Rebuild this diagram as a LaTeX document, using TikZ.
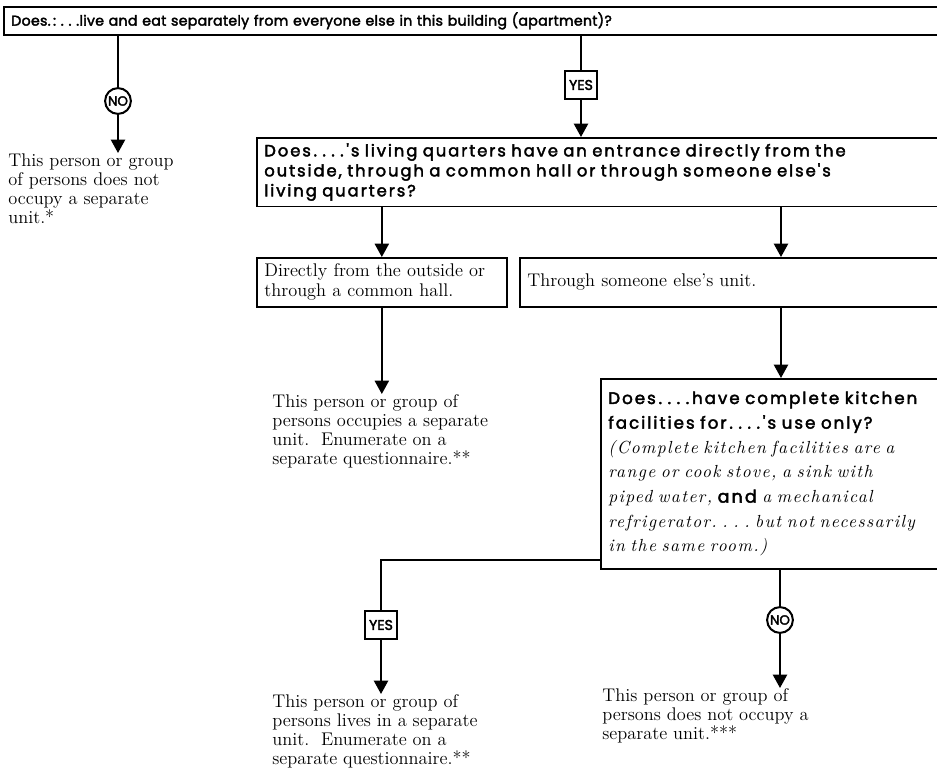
\documentclass[tikz,border=0pt]{standalone}
\usepackage{fontspec}
\newfontfamily\qfont{Poppins}[FakeBold=2.5,LetterSpace=12,WordSpace=2]
\newfontfamily\qtop{Poppins}[FakeBold=2.5,LetterSpace=2]
\newfontfamily\tagfont{Poppins}[FakeBold=2.5]
\newfontfamily\notefont{lmroman10}[Extension=.otf, UprightFont=*-regular,
  ItalicFont=*-italic, LetterSpace=8, WordSpace=1.2]
\usetikzlibrary{arrows.meta,positioning,shapes.geometric}

\tikzset{
  qbox/.style={draw, line width=1pt, anchor=north west, inner xsep=4.5pt,
    align=left, font=\qfont\fontsize{9.8}{12}\selectfont},
  ansbox/.style={draw, line width=1pt, anchor=north west, inner xsep=4.5pt,
    align=left, font=\fontsize{11}{12}\selectfont},
  restext/.style={anchor=north west, inner sep=0pt, align=left,
    font=\fontsize{11}{11.4}\selectfont},
  yesbox/.style={draw, line width=1pt, minimum width=19pt, minimum height=17pt,
    inner sep=1pt, font=\tagfont\fontsize{8.5}{9}\selectfont},
  nocircle/.style={draw, circle, line width=1.2pt, minimum size=15.5pt,
    inner sep=0pt, font=\tagfont\fontsize{8}{9}\selectfont},
  link/.style={line width=1.1pt},
  arr/.style={link, -{Triangle[length=8pt,width=8.5pt]}}
}

\begin{document}
\begin{tikzpicture}[x=0.6pt, y=-0.6pt]
  \useasboundingbox (0,0) rectangle (937,773);
  \clip (0,0) rectangle (937,773);

  % questions and answers
  \node[qbox, minimum width=565pt, minimum height=16.8pt, text width=556pt,
    font=\qtop\fontsize{8.5}{10}\selectfont] (q1) at (3,6)
    {Does.\,:\ .\ .\ .live and eat separately from everyone else in this building (apartment)?};
  \node[nocircle] (no1) at (118,101) {NO};
  \node[yesbox] (yes1) at (581,85) {YES};
  \node[restext] (res1) at (8,153)
    {This person or group\\ of persons does not\\ occupy a separate\\ unit.*};
  \node[qbox, minimum width=413pt, minimum height=40.8pt, text width=404pt] (q2) at (256,137)
    {Does\,.\ .\ .\ .\,'s living quarters have an entrance directly from the\\
     outside, through a common hall or through someone else's\\ living quarters?};
  \node[ansbox, minimum width=150pt, minimum height=29.4pt, text width=141pt] (a1) at (256,257)
    {Directly from the outside or\\ through a common hall.};
  \node[ansbox, minimum width=256pt, minimum height=29.4pt, text width=247pt] (a2) at (519,257)
    {Through someone else's unit.};
  \node[restext] (res2) at (272,394)
    {This person or group of\\ persons occupies a separate\\ unit.\ \ Enumerate on a\\
     separate questionnaire.**};
  \node[qbox, minimum width=207pt, minimum height=114pt, text width=198pt,
    font=\qfont\fontsize{10}{14.8}\selectfont] (q3) at (600,378)
    {Does\,.\ .\ .\ .\,have complete kitchen\\ facilities for\,.\ .\ .\ .\,'s use only?\\
     {\notefont\itshape\fontsize{10.5}{14.8}\selectfont
     (Complete kitchen facilities are a\\
     range or cook stove, a sink with\\ piped water, {\qfont\upshape and} a mechanical\\
     refrigerator.\ .\ .\ .\ but not necessarily\\ in the same room.)}};
  \node[yesbox] (yes2) at (381,625) {YES};
  \node[nocircle] (no2) at (780,620) {NO};
  \node[restext] (res3) at (272,694)
    {This person or group of\\ persons lives in a separate\\ unit.\ \ Enumerate on a\\
     separate questionnaire.**};
  \node[restext] (res4) at (602,688)
    {This person or group of\\ persons does not occupy a\\ separate unit.***};
  \coordinate (rcol) at (781,0);

  % connectors
  \draw[link] (q1.south -| no1) -- (no1);
  \draw[arr] (no1) -- (no1 |- res1.north);
  \draw[link] (q1.south -| yes1) -- (yes1);
  \draw[arr] (yes1) -- (yes1 |- q2.north);
  \draw[arr] (q2.south -| a1.north) -- (a1.north);
  \draw[arr] (q2.south -| rcol) -- (a2.north -| rcol);
  \draw[arr] (a1.south) -- (a1.south |- res2.north);
  \draw[arr] (a2.south -| rcol) -- (q3.north -| rcol);
  \draw[link] ([yshift=6pt]q3.south west) -| (yes2.north);
  \draw[arr] (yes2) -- (yes2 |- res3.north);
  \draw[link] (q3.south -| no2) -- (no2);
  \draw[arr] (no2) -- (no2 |- res4.north);
\end{tikzpicture}
\end{document}
